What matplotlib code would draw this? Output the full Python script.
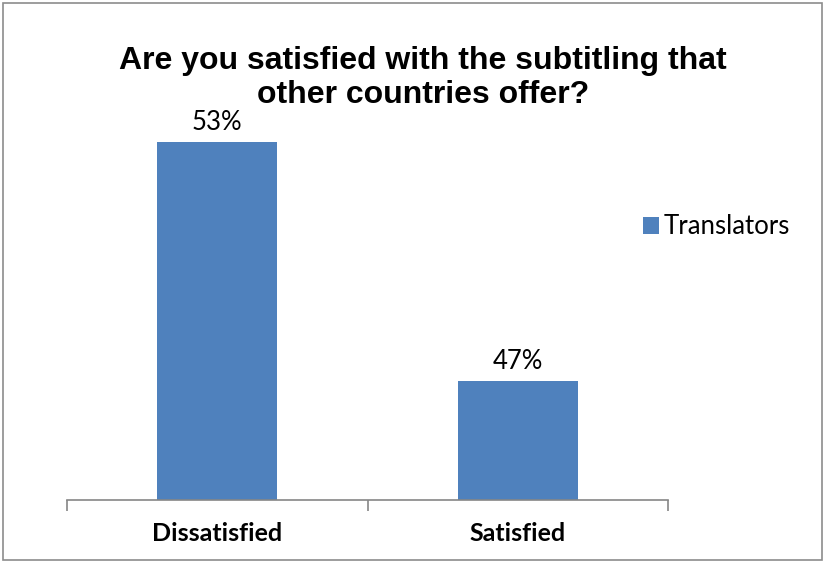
import matplotlib
matplotlib.use("Agg")
import matplotlib.pyplot as plt
from matplotlib.patches import Rectangle, Patch
from matplotlib.ticker import FixedLocator

categories = ["Dissatisfied", "Satisfied"]
translators = [0.53, 0.47]
series_name = "Translators"
title = "Are you satisfied with the subtitling that\nother countries offer?"

bar_color = "#4F81BD"
axis_color = "#868686"
label_font = ["Lato", "DejaVu Sans"]
title_font = ["Liberation Sans", "DejaVu Sans"]

fig = plt.figure(figsize=(8.24, 5.63), dpi=100)
fig.patch.set_facecolor("white")

# thin grey frame round the whole chart
fig.add_artist(Rectangle((3 / 824, 3 / 563), 819 / 824, 557 / 563,
                         transform=fig.transFigure, fill=False,
                         edgecolor="#8C8C8C", linewidth=1.2))

ax = fig.add_axes([67 / 824, 1 - 500 / 563, 601 / 824, 398 / 563])
x = list(range(len(categories)))
bars = ax.bar(x, translators, width=0.4, color=bar_color, label=series_name)

ax.set_xlim(-0.5, len(categories) - 0.5)
ax.set_ylim(0.44, 0.54)

for spine in ["top", "right", "left"]:
    ax.spines[spine].set_visible(False)
ax.spines["bottom"].set_color(axis_color)
ax.spines["bottom"].set_linewidth(1.2)

ax.set_yticks([])
ax.set_xticks(x)
ax.set_xticklabels(categories, fontfamily=label_font, fontweight="bold",
                   fontsize=18)
ax.tick_params(axis="x", which="major", length=0, pad=16)
ax.xaxis.set_minor_locator(FixedLocator([i - 0.5 for i in range(len(categories) + 1)]))
ax.tick_params(axis="x", which="minor", length=8, width=1.2, color=axis_color)

for rect, v in zip(bars, translators):
    ax.annotate(f"{v * 100:.0f}%", (rect.get_x() + rect.get_width() / 2, v),
                xytext=(0, 5), textcoords="offset points",
                ha="center", va="bottom", fontfamily=label_font, fontsize=18.5)

fig.text(423 / 824, 1 - 78 / 563, title, ha="center", va="center",
         fontfamily=title_font, fontweight="bold", fontsize=23,
         linespacing=1.2)

handle = Patch(facecolor=bar_color, edgecolor="none")
fig.legend([handle], [series_name], loc="center left",
           bbox_to_anchor=(620 / 824, 1 - 227 / 563), frameon=False,
           prop={"family": label_font, "size": 18.5},
           handlelength=0.6, handleheight=0.6, handletextpad=0.2)

fig.savefig("out.png", dpi=100, facecolor="white")
